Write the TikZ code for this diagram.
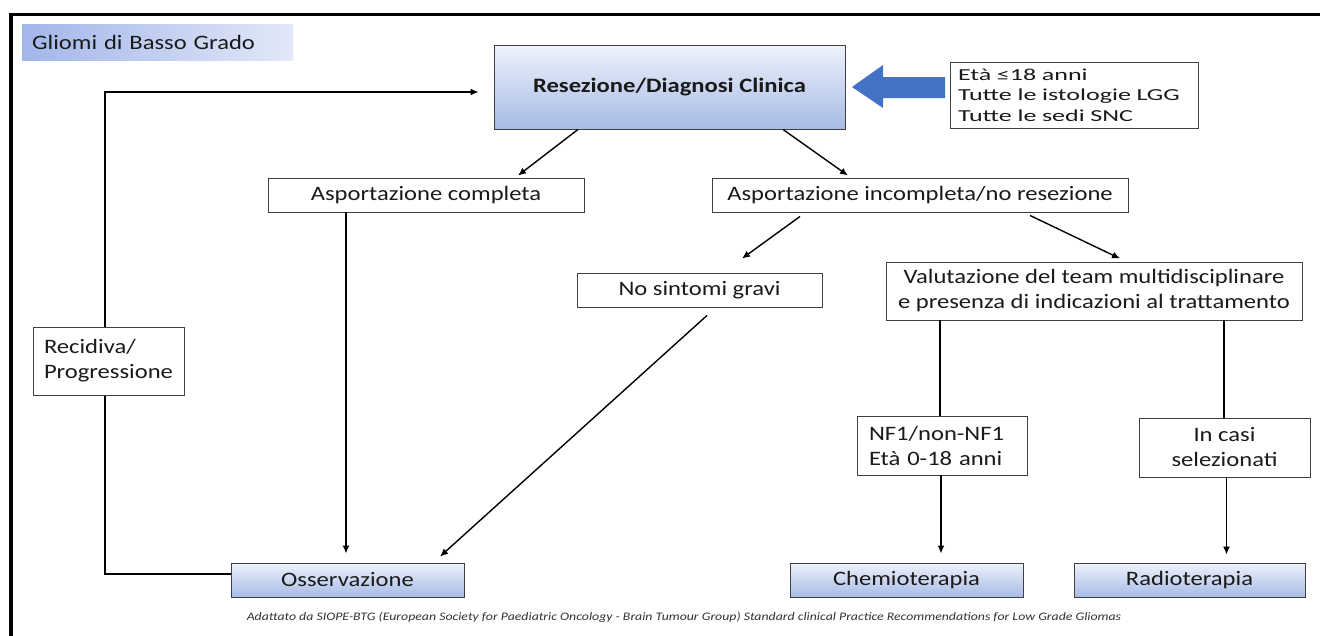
\documentclass[tikz,border=0pt]{standalone}
\usepackage{fontspec}
\setmainfont{Carlito}[FakeStretch=1.2]
\newfontfamily\infofont{Carlito}[FakeStretch=1.55]
\usetikzlibrary{arrows.meta,calc}
\definecolor{boxline}{HTML}{404040}
\definecolor{txt}{HTML}{1A1A1A}
\definecolor{foot}{HTML}{333333}
\definecolor{bluearrow}{HTML}{4472C4}
\definecolor{gradtop}{HTML}{EEF2FB}
\definecolor{gradbot}{HTML}{A7BBE6}
\definecolor{titleL}{HTML}{A3B6EA}
\definecolor{titleR}{HTML}{E2E8F8}
\begin{document}
\begin{tikzpicture}[x=1pt,y=-1pt,
  lbl/.style={font=\fontsize{20.5}{25}\selectfont, text=txt},
  plainbox/.style={lbl, draw=boxline, line width=0.9pt, fill=white, inner sep=0pt, align=center},
  gradbox/.style={lbl, draw=boxline, line width=0.9pt, top color=gradtop, bottom color=gradbot, inner sep=0pt, align=center},
  conn/.style={line width=1.4pt, black},
  arr/.style={conn, -{Latex[length=8pt,width=7pt]}},
]
\useasboundingbox (0,0) rectangle (1320,635);
\fill[white] (0,0) rectangle (1320,635);
% frame
\draw[line width=3.5pt, line join=miter] (1325,14.5) -- (11,14.5) -- (11,640);

% title
\node[lbl, anchor=west, left color=titleL, right color=titleR, minimum width=271pt, minimum height=36pt,
      text width=251pt, inner xsep=10pt, inner ysep=0pt, align=left] (title) at (22,42) {Gliomi di Basso Grado};

% main nodes
\node[gradbox, minimum width=351pt, minimum height=84pt, font=\bfseries\fontsize{20.5}{25}\selectfont] (main) at (669.5,87) {Resezione/Diagnosi Clinica};
\node[draw=boxline, line width=0.9pt, fill=white, text=txt, font=\infofont\fontsize{16.8}{20.3}\selectfont,
      text width=232pt, inner xsep=8pt, inner ysep=0pt, minimum height=66pt, align=left] (info) at (1074,95)
      {Età ≤18 anni\\Tutte le istologie LGG\\Tutte le sedi SNC};
\fill[bluearrow] (852,87) -- (883,65) -- (883,77) -- (945,77) -- (945,98) -- (883,98) -- (883,108) -- cycle;

\node[plainbox, minimum width=316pt, minimum height=34pt] (comp) at (426,195) {Asportazione completa};
\node[plainbox, minimum width=416pt, minimum height=34pt] (incomp) at (920,195) {Asportazione incompleta/no resezione};
\node[plainbox, minimum width=245pt, minimum height=34pt] (nosint) at (699.5,290) {No sintomi gravi};
\node[plainbox, minimum width=416pt, minimum height=58pt] (valut) at (1094,291) {Valutazione del team multidisciplinare\\e presenza di indicazioni al trattamento};
\node[plainbox, minimum width=170pt, minimum height=59pt, text width=146pt, inner xsep=12pt, align=left] (nf1) at (942,445.5) {NF1/non-NF1\\Età 0-18 anni};
\node[plainbox, minimum width=171pt, minimum height=59pt] (incasi) at (1224.5,447.5) {In casi\\selezionati};

\node[gradbox, minimum width=233pt, minimum height=34pt] (oss) at (347.5,580) {Osservazione};
\node[gradbox, minimum width=233pt, minimum height=34pt] (chemio) at (906.5,580) {Chemioterapia};
\node[gradbox, minimum width=231pt, minimum height=34pt] (radio) at (1189.5,580) {Radioterapia};

% loop back
\coordinate (lb) at (105,574);
\coordinate (lt) at (105,92);
\draw[arr, line join=miter] ($(oss.west)+(0,-6)$) -- (lb) -- (lt) -- ($(main.west)+(-15,5)$);
\node[plainbox, minimum width=151pt, minimum height=68pt, text width=129pt, inner xsep=11pt, align=left] (recid) at (108.5,361) {Recidiva/\\Progressione};

% connectors
\draw[arr] ($(main.south)+(-91.5,0)$) -- ($(comp.north)+(92,-2)$);
\draw[arr] ($(main.south)+(113.5,0)$) -- ($(incomp.north)+(-72,-2)$);
\draw[arr] ($(incomp.south)+(-120,4)$) -- ($(nosint.north)+(42.5,-14)$);
\draw[arr] ($(incomp.south)+(110,3)$) -- ($(valut.north)+(26,-3)$);
\draw[arr] ($(nosint.south)+(7.5,8)$) -- ($(oss.north)+(92.5,-6)$);
\draw[arr] ($(comp.south)+(-80,0)$) -- ($(oss.north)+(-1.5,-9)$);
\draw[conn] ($(valut.south)+(-154,0)$) -- ($(nf1.north)+(-2,0)$);
\draw[arr] ($(nf1.south)+(-1,0)$) -- ($(chemio.north)+(34.5,-9)$);
\draw[conn] ($(valut.south)+(130,0)$) -- ($(incasi.north)+(-0.5,0)$);
\draw[arr] ($(incasi.south)+(2,0)$) -- ($(radio.north)+(37,-8)$);

% footnote
\node[font=\itshape\fontsize{11.5}{13}\selectfont, text=foot, inner sep=0pt] (footnote) at (684,617)
  {Adattato da SIOPE-BTG (European Society for Paediatric Oncology - Brain Tumour Group) Standard clinical Practice Recommendations for Low Grade Gliomas};
\end{tikzpicture}
\end{document}
